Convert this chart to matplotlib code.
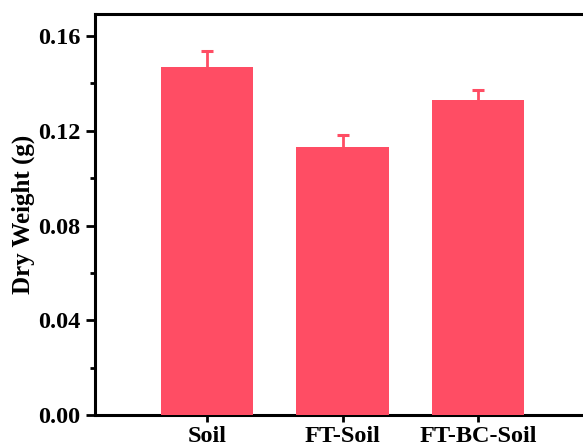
import matplotlib.pyplot as plt
from matplotlib.ticker import MultipleLocator

categories = ['Soil', 'FT-Soil', 'FT-BC-Soil']
dry_weight = [0.1468, 0.1133, 0.1331]
errors = [0.0070, 0.0048, 0.0042]

bar_color = '#FF4D64'

plt.rcParams['font.family'] = ['Liberation Serif', 'DejaVu Serif']
plt.rcParams['font.weight'] = 'bold'

fig = plt.figure(figsize=(5.83, 4.47), dpi=100)
# axes right spine falls just outside the cropped picture
ax = fig.add_axes([95 / 583, 32 / 447, 495 / 583, 401 / 447])

x = list(range(len(categories)))
tops = [v + e for v, e in zip(dry_weight, errors)]
ax.bar(x, dry_weight, width=0.68, color=bar_color, zorder=3)
# upper error only
ax.vlines(x, dry_weight, tops, color=bar_color, linewidth=2, zorder=2)
ax.plot(x, tops, linestyle='none', marker='_', markersize=8, markeredgewidth=2.2,
        color=bar_color, zorder=2)

ax.set_xlim(-0.827, 2.827)
ax.set_ylim(0, 0.1693)
ax.yaxis.set_major_locator(MultipleLocator(0.04))
ax.yaxis.set_minor_locator(MultipleLocator(0.02))
ax.yaxis.set_major_formatter(plt.FuncFormatter(lambda v, p: f'{v:.2f}'))

ax.set_xticks(x)
ax.set_xticklabels(categories)

for s in ax.spines.values():
    s.set_linewidth(2.2)

ax.tick_params(axis='both', which='major', direction='out', length=6.5, width=2,
               labelsize=17.5, pad=4)
ax.tick_params(axis='y', which='minor', direction='out', length=3.5, width=2)
ax.tick_params(axis='x', which='major', length=5, pad=3)

ax.set_ylabel('Dry Weight (g)', fontsize=18, fontweight='bold', labelpad=2)

fig.savefig('out.png', dpi=100)
